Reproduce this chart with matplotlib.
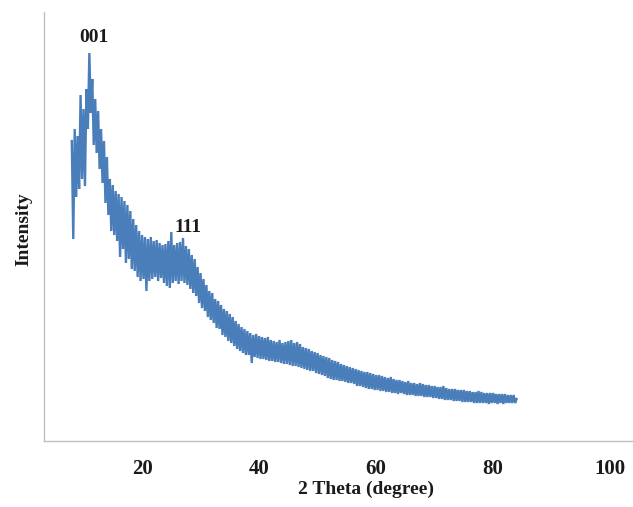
import matplotlib
matplotlib.use("Agg")
import matplotlib.pyplot as plt
import numpy as np

# XRD scan: 2theta from 8.0 deg in 0.25 deg steps, intensity in arbitrary units
SCAN_START = 8.0
SCAN_STEP = 0.25
intensity = [
    300, 202, 312, 244,  305, 252, 346, 262,  332, 255, 352, 312,   # 8-10
    388, 328, 362, 296,  342, 288, 330, 272,  312, 258, 300, 238,   # 11-13
    284, 226, 262, 210,  256, 206, 250, 200,  247, 184, 244, 192,   # 14-16
    240, 178, 236, 182,  230, 172, 222, 170,  216, 164, 210, 160,   # 17-19
    206, 162, 204, 150,  202, 160, 204, 162,  200, 164, 201, 160,   # 20-22
    198, 163, 196, 158,  197, 155, 200, 153,  209, 158, 196, 160,   # 23-25
    198, 157, 199, 160,  203, 158, 195, 156,  192, 152, 186, 148,   # 26-28
    182, 145, 174, 138,  168, 133, 162, 130,  156, 124, 150, 121,   # 29-31
    148, 118, 142, 113,  140, 112, 136, 106,  132, 104, 130, 100,   # 32-34
    127, 98, 124, 95,    120, 92, 117, 90,    114, 88, 112, 86,     # 35-37
    110, 86, 108, 78,    106, 84, 107, 83,    105, 82, 104, 82,     # 38-40
    103, 81, 104, 80,    101, 80, 100, 79,    99, 79, 101, 78,      # 41-43
    98, 77, 99, 77,      100, 76, 101, 75,    98, 75, 99, 74,       # 44-46
    97, 73, 94, 72,      93, 71, 92, 70,      90, 70, 89, 68,       # 47-49
    88, 67, 86, 66,      85, 65, 84, 63,      83, 62, 81, 61,       # 50-52
    80, 61, 79, 60,      77, 60, 76, 59,      75, 58, 74, 58,       # 53-55
    73, 57, 72, 55,      71, 55, 70, 54,      69, 53, 69, 52,       # 56-58
    68, 52, 67, 51,      66, 51, 66, 50,      65, 50, 64, 49,       # 59-61
    63, 49, 64, 48,      62, 48, 61, 47,      61, 48, 60, 47,       # 62-64
    59, 46, 60, 46,      58, 46, 58, 45,      57, 45, 58, 45,       # 65-67
    57, 44, 56, 44,      56, 44, 55, 43,      55, 43, 54, 42,       # 68-70
    54, 42, 55, 41,      53, 41, 52, 41,      52, 40, 52, 40,       # 71-73
    51, 40, 51, 39,      51, 39, 50, 39,      50, 39, 49, 38,       # 74-76
    49, 38, 50, 38,      49, 38, 48, 38,      48, 37, 48, 38,       # 77-79
    48, 38, 47, 37,      47, 38, 47, 37,      47, 38, 46, 38,       # 80-82
    46, 38, 46, 38,      42,                                        # 83-84
]
two_theta = SCAN_START + SCAN_STEP * np.arange(len(intensity))

peak_labels = ["001", "111"]
peak_pos = [11.8, 27.9]
peak_height = [404, 213]

SERIF = ["Liberation Serif", "DejaVu Serif"]

fig = plt.figure(figsize=(6.33, 5.07), dpi=100)
ax = fig.add_axes([44 / 633, 66 / 507, 589 / 633, 429 / 507])

ax.plot(two_theta, intensity, color="#4a7ebb", lw=1.7, solid_joinstyle="miter")

for lab, x, y in zip(peak_labels, peak_pos, peak_height):
    ax.text(x, y, lab, ha="center", va="center", fontsize=14,
            fontweight="bold", family=SERIF, color="#1a1a1a")

ax.set_xlim(3.25, 103.9)
ax.set_ylim(0, 429)
ax.set_xticks([20, 40, 60, 80, 100])
ax.set_yticks([])
ax.tick_params(axis="x", length=0, pad=13, labelsize=15)
for t in ax.get_xticklabels():
    t.set_family(SERIF)
    t.set_fontweight("bold")
    t.set_color("#1a1a1a")

for s in ["top", "right"]:
    ax.spines[s].set_visible(False)
for s in ["left", "bottom"]:
    ax.spines[s].set_color("#bfbfbf")
    ax.spines[s].set_linewidth(1.0)

ax.set_xlabel("2 Theta (degree)", fontsize=14, fontweight="bold",
              family=SERIF, color="#1a1a1a")
ax.xaxis.set_label_coords(0.547, -0.093)
ax.set_ylabel("Intensity", fontsize=14, fontweight="bold",
              family=SERIF, color="#1a1a1a")
ax.yaxis.set_label_coords(-0.019, 0.494)

fig.savefig("out.png", dpi=100)
